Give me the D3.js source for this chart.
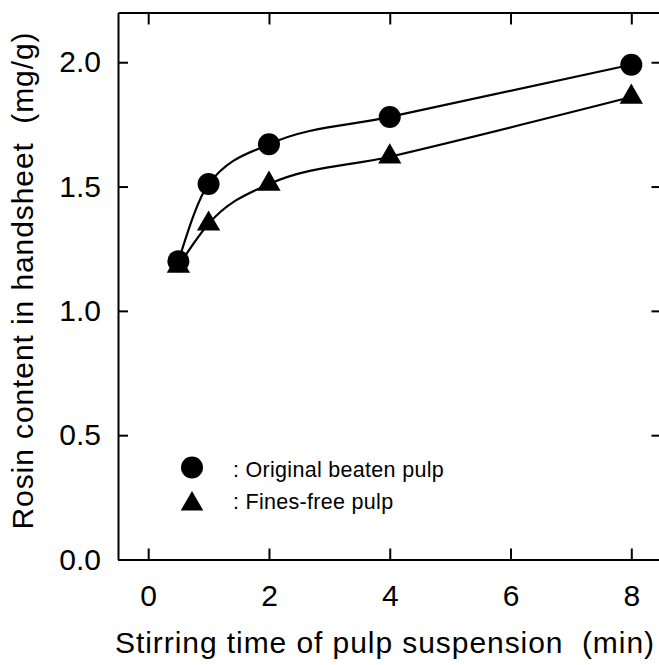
<!DOCTYPE html>
<html>
<head>
<meta charset="utf-8">
<script src="https://cdn.jsdelivr.net/npm/d3@7"></script>
<style>
  html, body { margin: 0; padding: 0; background: #fff; }
  svg { display: block; }
  text { font-family: "Liberation Sans", Arial, Helvetica, sans-serif; fill: #000; }
</style>
</head>
<body>
<svg id="chart" width="659" height="665"></svg>
<script>
// ---- data ----
const stirTimes = [0.5, 1, 2, 4, 8];
const originalPulp = [1.20, 1.51, 1.67, 1.78, 1.99];
const finesFreePulp = [1.18, 1.35, 1.51, 1.62, 1.86];
const xTickValues = [0, 2, 4, 6, 8];
const yTickValues = [0.0, 0.5, 1.0, 1.5, 2.0];
const legendLabels = [": Original beaten pulp", ": Fines-free pulp"];
const xTitle = "Stirring time of pulp suspension  (min)";
const yTitle = "Rosin content in handsheet  (mg/g)";

(function () {
// ---- layout ----
const svg = d3.select("#chart");
const pLeft = 118, pRight = 661.5, pTop = 12.5, pBottom = 559.5;
const x = d3.scaleLinear().domain([-0.5, 8.5]).range([pLeft, pRight]);
const y = d3.scaleLinear().domain([0, 2.2]).range([pBottom, pTop]);

const axisFont = "30px";

// bottom axis
const gB = svg.append("g").attr("transform", `translate(0,${pBottom})`)
  .call(d3.axisBottom(x).tickValues(xTickValues).tickFormat(d3.format("d"))
    .tickSizeInner(-11).tickSizeOuter(0).tickPadding(25));
// top axis
const gT = svg.append("g").attr("transform", `translate(0,${pTop})`)
  .call(d3.axisTop(x).tickValues(xTickValues).tickFormat("")
    .tickSizeInner(-12).tickSizeOuter(0));
// left axis
const gL = svg.append("g").attr("transform", `translate(${pLeft},0)`)
  .call(d3.axisLeft(y).tickValues(yTickValues).tickFormat(d3.format(".1f"))
    .tickSizeInner(-10).tickSizeOuter(0).tickPadding(17));
// right axis
const gR = svg.append("g").attr("transform", `translate(${pRight},0)`)
  .call(d3.axisRight(y).tickValues(yTickValues).tickFormat("")
    .tickSizeInner(-10).tickSizeOuter(0));

[gB, gT, gL, gR].forEach(g => {
  g.select(".domain").attr("stroke", "#000").attr("stroke-width", 2);
  g.selectAll(".tick line").attr("stroke", "#000").attr("stroke-width", 2);
  g.selectAll(".tick text").attr("fill", "#000")
    .style("font-size", axisFont)
    .style("font-family", '"Liberation Sans", Arial, sans-serif');
});

// axis titles
svg.append("text")
  .attr("x", 384.5).attr("y", 653)
  .attr("text-anchor", "middle")
  .attr("textLength", 539).attr("lengthAdjust", "spacing")
  .style("font-size", "30px")
  .style("white-space", "pre")
  .text(xTitle);

svg.append("text")
  .attr("transform", "translate(33,281) rotate(-90)")
  .attr("text-anchor", "middle")
  .attr("textLength", 497).attr("lengthAdjust", "spacing")
  .style("font-size", "30px")
  .style("white-space", "pre")
  .text(yTitle);

// ---- lines ----
const line = d3.line().x(d => x(d[0])).y(d => y(d[1])).curve(d3.curveMonotoneX);
const seriesList = [
  { values: originalPulp, symbol: d3.symbolCircle, size: Math.PI * 11 * 11 },
  { values: finesFreePulp, symbol: d3.symbolTriangle, size: 235 }
];

seriesList.forEach(s => {
  const pts = stirTimes.map((t, i) => [t, s.values[i]]);
  svg.append("path")
    .attr("d", line(pts))
    .attr("fill", "none").attr("stroke", "#000").attr("stroke-width", 2.2);
});
// draw triangles first then circles on top (circle at 0.5 sits over triangle)
[seriesList[1], seriesList[0]].forEach(s => {
  const pts = stirTimes.map((t, i) => [t, s.values[i]]);
  svg.append("g").selectAll("path").data(pts).join("path")
    .attr("transform", d => `translate(${x(d[0])},${y(d[1])})`)
    .attr("d", d3.symbol().type(s.symbol).size(s.size))
    .attr("fill", "#000");
});

// ---- legend ----
const legendRows = [
  { label: legendLabels[0], symbol: d3.symbolCircle, size: Math.PI * 11 * 11, cy: 467.5, ty: 476.5 },
  { label: legendLabels[1], symbol: d3.symbolTriangle, size: 220, cy: 504, ty: 509 }
];
legendRows.forEach(r => {
  svg.append("path")
    .attr("transform", `translate(192,${r.cy})`)
    .attr("d", d3.symbol().type(r.symbol).size(r.size))
    .attr("fill", "#000");
  svg.append("text")
    .attr("x", 233).attr("y", r.ty)
    .style("font-size", "21.5px")
    .style("letter-spacing", "0.3px")
    .text(r.label);
});
})();
</script>
</body>
</html>
